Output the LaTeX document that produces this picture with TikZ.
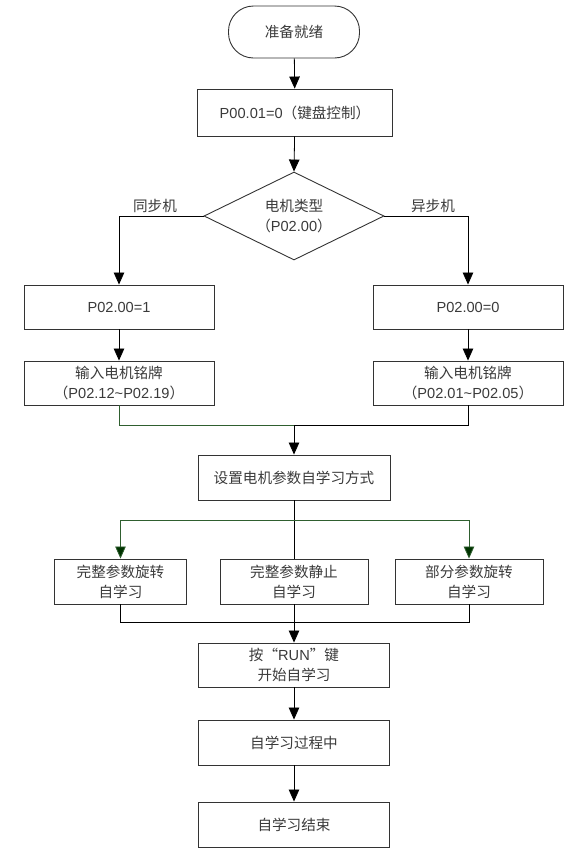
\documentclass[tikz,border=0pt]{standalone}
\usepackage{fontspec}
\setmainfont{Liberation Sans}
\newfontfamily\cjk{Noto Sans CJK SC}
\newcommand{\zhtxt}[1]{{\cjk #1}}
\usetikzlibrary{arrows.meta,shapes.geometric}
\definecolor{txtgray}{HTML}{3A3A3A}
\definecolor{boxline}{HTML}{333333}
\definecolor{lgreen}{HTML}{2F5F2F}
\definecolor{agreen}{HTML}{003300}
\begin{document}
\begin{tikzpicture}[x=1pt,y=-1pt,
  every node/.style={font=\fontsize{14.6}{20}\selectfont, text=txtgray},
  box/.style={draw=boxline, line width=0.9pt, rectangle, align=center, inner sep=0pt, minimum height=45pt},
  term/.style={box, rounded corners=25pt, minimum width=131pt, minimum height=52pt},
  decide/.style={draw=boxline, line width=0.9pt, diamond, shape aspect=2.05, align=center, inner sep=0pt, minimum width=180pt, minimum height=88pt},
  conn/.style={draw=black, line width=0.8pt},
  arr/.style={conn, -{Triangle[width=10.5pt,length=12pt]}},
  gconn/.style={draw=lgreen, line width=0.8pt},
  garr/.style={gconn, -{Triangle[width=10.5pt,length=12pt,fill=agreen]}},
  lab/.style={inner sep=0pt}
]
\useasboundingbox (0,0) rectangle (578,860);

\node[term] (start) at (294,32) {\zhtxt{准备就绪}};
\node[box, minimum width=195pt, minimum height=47pt] (p0001) at (295,112.5) {P00.01=0\zhtxt{（键盘控制）}};
\node[decide] (dia) at (294,216) {\zhtxt{电机类型}\\\zhtxt{（}P02.00\zhtxt{）}};

\node[box, minimum width=190pt, minimum height=44pt] (b1l) at (119,307) {P02.00=1};
\node[box, minimum width=190pt, minimum height=44pt] (b1r) at (468,307) {P02.00=0};
\node[box, minimum width=190pt, minimum height=44pt] (b2l) at (119,383) {\zhtxt{输入电机铭牌}\\\zhtxt{（}P02.12\textasciitilde P02.19\zhtxt{）}};
\node[box, minimum width=190pt, minimum height=44pt] (b2r) at (468,383) {\zhtxt{输入电机铭牌}\\\zhtxt{（}P02.01\textasciitilde P02.05\zhtxt{）}};

\node[box, minimum width=192pt] (set) at (294,477.5) {\zhtxt{设置电机参数自学习方式}};

\node[box, minimum width=132pt] (m1) at (120.5,581.5) {\zhtxt{完整参数旋转}\\\zhtxt{自学习}};
\node[box, minimum width=148pt] (m2) at (294,581.5) {\zhtxt{完整参数静止}\\\zhtxt{自学习}};
\node[box, minimum width=148pt] (m3) at (469,581.5) {\zhtxt{部分参数旋转}\\\zhtxt{自学习}};

\node[box, minimum width=191pt, minimum height=44pt] (run) at (294,665) {\zhtxt{按“}RUN\zhtxt{”键}\\\zhtxt{开始自学习}};
\node[box, minimum width=191pt] (proc) at (294,742.5) {\zhtxt{自学习过程中}};
\node[box, minimum width=191pt] (fin) at (294,824.5) {\zhtxt{自学习结束}};

\node[lab] (lsync) at (155,206) {\zhtxt{同步机}};
\node[lab] (lasync) at (433,206) {\zhtxt{异步机}};

\coordinate (j1) at (294,425);
\coordinate (j2) at (294,520);
\coordinate (j3) at (294,622);

\draw[arr] (start) -- (p0001);
\draw[arr] (p0001) -- (dia.north);
\draw[arr] (dia.west) -| (b1l.north);
\draw[arr] (dia.east) -| (b1r.north);
\draw[arr] (b1l) -- (b2l);
\draw[arr] (b1r) -- (b2r);
\draw[gconn] (b2l.south) |- (j1);
\draw[conn] (b2r.south) |- (j1);
\draw[arr] (j1) -- (set.north);
\draw[conn] (set.south) -- (m2.north);
\draw[garr] (j2) -| (m1.north);
\draw[garr] (j2) -| (m3.north);
\draw[conn] (m1.south) |- (j3);
\draw[conn] (m3.south) |- (j3);
\draw[arr] (m2.south) -- (run.north);
\draw[arr] (run) -- (proc);
\draw[arr] (proc) -- (fin);
\end{tikzpicture}
\end{document}
